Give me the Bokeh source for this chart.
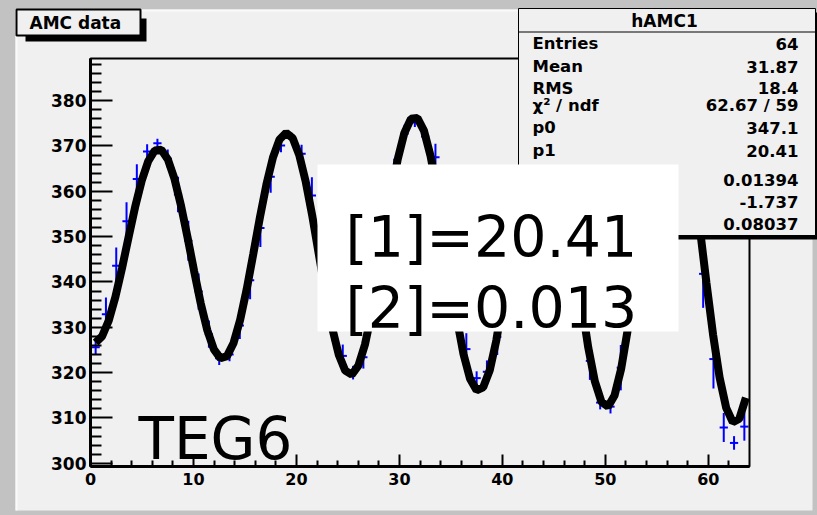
import numpy as np
from bokeh.plotting import figure
from bokeh.models import Label, BoxAnnotation, FixedTicker, Range1d, ColumnDataSource
from bokeh.embed import file_html
from bokeh.resources import INLINE

# ---------------- data ----------------
bin_centers = [0.5, 1.5, 2.5, 3.5, 4.5, 5.5, 6.5, 7.5, 8.5, 9.5,
               10.5, 11.5, 12.5, 13.5, 14.5, 15.5, 16.5, 17.5, 18.5, 19.5,
               20.5, 21.5, 22.5, 23.5, 24.5, 25.5, 26.5, 27.5, 28.5, 29.5,
               30.5, 31.5, 32.5, 33.5, 34.5, 35.5, 36.5, 37.5, 38.5, 39.5,
               40.5, 41.5, 42.5, 43.5, 44.5, 45.5, 46.5, 47.5, 48.5, 49.5,
               50.5, 51.5, 52.5, 53.5, 54.5, 55.5, 56.5, 57.5, 58.5, 59.5,
               60.5, 61.5, 62.5, 63.5]
bin_values = [325.6, 332.9, 343.6, 353.4, 362.7, 368.8, 370.6, 367.2, 359.3, 349.1,
              337.9, 328.5, 323.2, 324.0, 330.4, 340.4, 351.9, 363.2, 370.1, 372.0,
              368.3, 359.1, 341.7, 330.5, 323.7, 320.0, 323.4, 335.6, 349.7, 363.2,
              372.7, 375.2, 372.1, 367.5, 347.7, 333.0, 325.2, 318.8, 320.2, 327.9,
              342.8, 358.8, 372.1, 379.6, 378.9, 370.1, 355.4, 338.4, 322.6, 313.4,
              312.5, 321.1, 334.7, 352.4, 369.0, 380.3, 383.4, 377.3, 363.8, 341.8,
              323.0, 307.9, 304.5, 308.1]
bin_errors = [1.5, 3.7, 4.0, 4.2, 3.3, 1.6, 1.0, 2.0, 3.9, 4.4,
              4.0, 3.0, 1.5, 1.5, 3.0, 4.2, 4.2, 3.5, 1.5, 1.0,
              2.0, 4.0, 4.5, 3.5, 2.5, 1.5, 2.5, 4.5, 4.5, 4.0,
              2.0, 1.0, 2.0, 3.0, 4.5, 4.0, 3.5, 1.5, 2.5, 4.0,
              4.5, 4.0, 2.0, 1.0, 1.0, 2.0, 4.0, 4.5, 4.2, 1.5,
              1.5, 5.0, 4.5, 4.5, 3.0, 1.5, 1.0, 2.0, 4.0, 7.5,
              6.5, 3.2, 1.5, 3.1]

# fit shown in the stats box: p0 + p1*(1+p2*x)*sin(2*pi*p4*x + p3)
fit_params = [347.1, 20.41, 0.01394, -1.737, 0.08037]
fit_range = [0.5, 63.65]

x_ticks = [0, 10, 20, 30, 40, 50, 60]
x_tick_labels = ["0", "10", "20", "30", "40", "50", "60"]
x_minor_ticks = [2, 4, 6, 8, 12, 14, 16, 18, 22, 24, 26, 28, 32, 34, 36, 38,
                 42, 44, 46, 48, 52, 54, 56, 58, 62]
y_ticks = [300, 310, 320, 330, 340, 350, 360, 370, 380]
y_tick_labels = ["300", "310", "320", "330", "340", "350", "360", "370", "380"]
y_minor_ticks = [302, 304, 306, 308, 312, 314, 316, 318, 322, 324, 326, 328,
                 332, 334, 336, 338, 342, 344, 346, 348, 352, 354, 356, 358,
                 362, 364, 366, 368, 372, 374, 376, 378, 382, 384, 386, 388]

title_text = "AMC data"
stats_title = "hAMC1"
stat_names = ["Entries", "Mean", "RMS", "χ² / ndf", "p0", "p1", "p2", "p3", "p4"]
stat_values = ["64", "31.87", "18.4", "62.67 / 59", "347.1", "20.41", "0.01394", "-1.737", "0.08037"]
box_lines = ["[1]=20.41", "[2]=0.013"]
tag_text = "TEG6"

# ---------------- layout (page pixels) ----------------
W, H = 817, 515
FL, FR, FT, FB = 90, 749, 58, 466       # inner plot frame on the page
XMIN, XMAX = 0, 64
YMIN, YMAX = 299.3, 389.3


def px2x(px):
    return XMIN + (px - FL) * (XMAX - XMIN) / (FR - FL)


def px2y(py):
    return YMIN + (FB - py) * (YMAX - YMIN) / (FB - FT)


CANVAS = "#f0f0f0"
OUTER = "#c2c2c2"
BOLD = "DejaVu Sans"

p = figure(width=W, height=H, output_backend="svg", toolbar_location=None,
           x_range=Range1d(px2x(0), px2x(W)), y_range=Range1d(px2y(H), px2y(0)),
           min_border=0, min_border_left=0, min_border_right=0,
           min_border_top=0, min_border_bottom=0)
p.background_fill_color = OUTER
p.border_fill_color = OUTER
p.outline_line_color = None
p.xgrid.visible = False
p.ygrid.visible = False

p.xaxis[0].fixed_location = YMIN
p.yaxis[0].fixed_location = XMIN
p.xaxis[0].bounds = (XMIN, XMAX)
p.yaxis[0].bounds = (YMIN, YMAX)

for ax, ticks, minors, labels, tin, mtin, standoff, fsize in (
        (p.xaxis[0], x_ticks, x_minor_ticks, x_tick_labels, 12, 6, 6, "16px"),
        (p.yaxis[0], y_ticks, y_minor_ticks, y_tick_labels, 22, 11, 4, "17px")):
    ax.ticker = FixedTicker(ticks=ticks, minor_ticks=minors)
    ax.major_label_overrides = {t: l for t, l in zip(ticks, labels)}
    ax.major_tick_in = tin
    ax.major_tick_out = 0
    ax.minor_tick_in = mtin
    ax.minor_tick_out = 0
    ax.major_tick_line_width = 2
    ax.minor_tick_line_width = 2
    ax.major_tick_line_color = "black"
    ax.minor_tick_line_color = "black"
    ax.axis_line_width = 3
    ax.axis_line_color = "black"
    ax.major_label_text_font = BOLD
    ax.major_label_text_font_style = "bold"
    ax.major_label_text_font_size = fsize
    ax.major_label_text_color = "black"
    ax.major_label_standoff = standoff


def box(l, t, r, b, fill, line=None, lw=1, level="annotation"):
    kw = dict(left=px2x(l), right=px2x(r), top=px2y(t), bottom=px2y(b), level=level)
    if fill is None:
        kw.update(fill_alpha=0)
    else:
        kw.update(fill_color=fill, fill_alpha=1.0)
    if line is None:
        kw.update(line_alpha=0)
    else:
        kw.update(line_color=line, line_alpha=1.0, line_width=lw)
    ba = BoxAnnotation(**kw)
    p.add_layout(ba)
    return ba


def label(text, px, py, size, align="left", baseline="middle", bold=True, font=BOLD):
    p.add_layout(Label(x=px2x(px), y=px2y(py), text=text, text_font=font,
                       text_font_size=f"{size}px",
                       text_font_style="bold" if bold else "normal",
                       text_align=align, text_baseline=baseline, text_color="black"))


# light canvas (under everything)
box(15, 9, 812, 510, CANVAS, level="underlay")
box(15, 9, 812, 11, "#fafafa", level="underlay")
box(15, 9, 17, 510, "#fafafa", level="underlay")

# ---------------- histogram points with error bars ----------------
half_w = 0.4
src = ColumnDataSource(dict(
    x=bin_centers,
    xl=[c - half_w for c in bin_centers],
    xr=[c + half_w for c in bin_centers],
    y=bin_values,
    ylo=[v - e for v, e in zip(bin_values, bin_errors)],
    yhi=[v + e for v, e in zip(bin_values, bin_errors)],
))
p.segment(x0="xl", y0="y", x1="xr", y1="y", source=src, line_color="#0000ff", line_width=2)
p.segment(x0="x", y0="ylo", x1="x", y1="yhi", source=src, line_color="#0000ff", line_width=2)

# ---------------- fit curve ----------------
p0, p1, p2, p3, p4 = fit_params
fx = np.linspace(fit_range[0], fit_range[1], 100)
fy = p0 + p1 * (1 + p2 * fx) * np.sin(2 * np.pi * p4 * fx + p3)
p.line(fx, fy, line_color="black", line_width=8)

# inner plot frame
p.add_layout(BoxAnnotation(left=XMIN, right=XMAX, bottom=YMIN, top=YMAX,
                           fill_alpha=0, line_color="black", line_alpha=1.0, line_width=2))

# ---------------- title box ----------------
box(25, 18, 146, 41, "black")
box(16, 9, 140, 35, CANVAS, line="black", lw=2)
label(title_text, 29, 22.5, 17)

# ---------------- stats box ----------------
box(521, 12, 819, 239, "black")
box(518, 8, 815, 235, CANVAS, line="black", lw=1)
box(518, 31, 815, 32, "black")
label(stats_title, 664, 20, 17, align="center")
row_y = [43, 66, 87.5, 105, 127, 150, 179, 201, 223.5]
for name, val, yy in zip(stat_names, stat_values, row_y):
    label(name, 532, yy, 16.5)
    label(val, 798, yy, 16.5, align="right")

# ---------------- white text box ----------------
box(317, 164, 678, 331, "white")
label(box_lines[0], 345, 236, 57, baseline="alphabetic", bold=False, font="DejaVu Sans")
label(box_lines[1], 345, 307, 57, baseline="alphabetic", bold=False, font="DejaVu Sans")

# ---------------- tag ----------------
label(tag_text, 138, 438, 58, baseline="alphabetic", bold=False, font="DejaVu Sans")

html = file_html(p, INLINE, title="AMC data")
html = html.replace("</head>", "<style>body{background-color:#c2c2c2;}</style></head>", 1)
open("out.html", "w").write(html)
